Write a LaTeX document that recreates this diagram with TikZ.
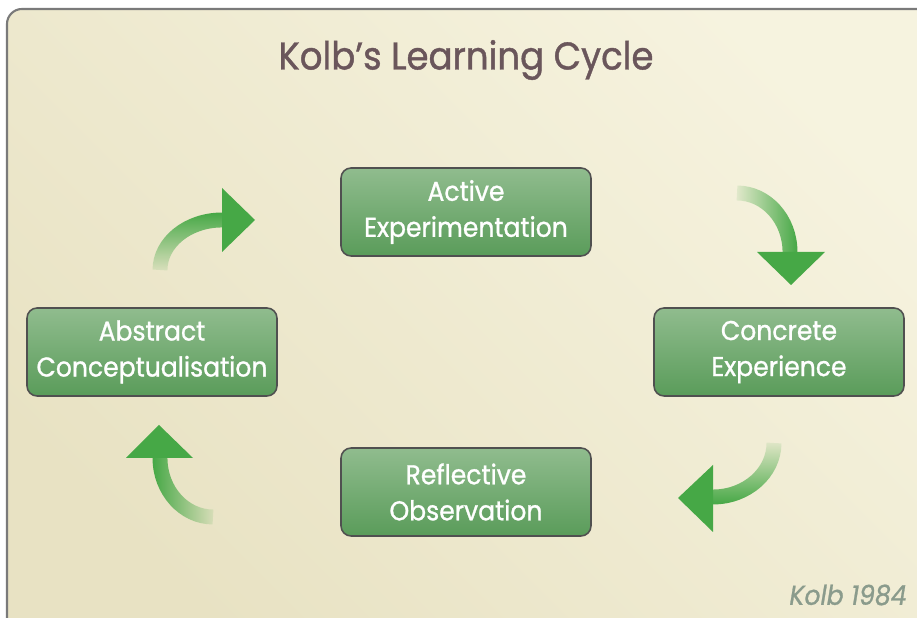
\documentclass[tikz,border=0pt]{standalone}
\usepackage{fontspec}
\setmainfont[FakeStretch=0.92, FakeBold=1]{Poppins}
\usetikzlibrary{fadings}
\definecolor{panelline}{HTML}{7A7A7A}
\definecolor{paneldark}{HTML}{E8E2C3}
\definecolor{panellight}{HTML}{F6F3DF}
\definecolor{titlemauve}{HTML}{6A565B}
\definecolor{stagetop}{HTML}{90BC8E}
\definecolor{stagebottom}{HTML}{5A9C5A}
\definecolor{stageline}{HTML}{505050}
\definecolor{cyclegreen}{HTML}{46A846}
\definecolor{sourcegrey}{HTML}{8A9B8C}
\tikzfading[name=tailfade, bottom color=transparent!100, middle color=transparent!0, top color=transparent!0]
\begin{document}
\begin{tikzpicture}[x=0.02cm, y=0.02cm,
	stage/.style={draw=stageline, line width=0.9pt, rounded corners=0.2cm,
		top color=stagetop, bottom color=stagebottom, text=white, align=center,
		minimum width=5cm, minimum height=1.76cm,
		font=\fontsize{15.5}{20.5}\selectfont},
	shaft/.style={draw=cyclegreen, line width=8.5pt, path fading=tailfade},
	head/.style={fill=cyclegreen}]
	\useasboundingbox (0,0) rectangle (917,618);
	\begin{scope}
		\clip (0,0) rectangle (917,618);
		\draw[panelline, line width=1.2pt, rounded corners=0.3cm, top color=panellight, bottom color=paneldark, shading angle=-45] (7,609) rectangle (960,-40);
	\end{scope}

	\node[text=titlemauve, font=\fontsize{22}{24}\selectfont] (title) at (466,558) {Kolb’s Learning Cycle};

	\node[stage] (ae) at (466,406) {Active\\Experimentation};
	\node[stage] (ce) at (779,266) {Concrete\\Experience};
	\node[stage] (ro) at (466,126) {Reflective\\Observation};
	\node[stage] (ac) at (152,266) {Abstract\\Conceptualisation};

	\coordinate (ac-out) at (160,348);
	\coordinate (ae-out) at (737,425);
	\coordinate (ce-out) at (774,175);
	\coordinate (ro-out) at (213,101);

	\draw[shaft, fading angle=0] (ac-out) arc[start angle=180, end angle=90, x radius=62, y radius=50] -- ++(1,0);
	\fill[head] (222,430) -- (255,398) -- (222,366) -- cycle;

	\draw[shaft, fading angle=-90] (ae-out) arc[start angle=90, end angle=0, x radius=53, y radius=59] -- ++(0,-1);
	\fill[head] (757,366) -- (791,333) -- (825,366) -- cycle;

	\draw[shaft, fading angle=180] (ce-out) arc[start angle=0, end angle=-90, x radius=61, y radius=54] -- ++(-1,0);
	\fill[head] (713,153) -- (678,120) -- (713,86) -- cycle;

	\draw[shaft, fading angle=90] (ro-out) arc[start angle=270, end angle=180, x radius=53, y radius=59] -- ++(0,1);
	\fill[head] (126,160) -- (159,193) -- (193,160) -- cycle;

	\node[text=sourcegrey, font=\fontsize{15.5}{17}\selectfont\itshape] (source) at (848,23) {Kolb 1984};
\end{tikzpicture}
\end{document}
